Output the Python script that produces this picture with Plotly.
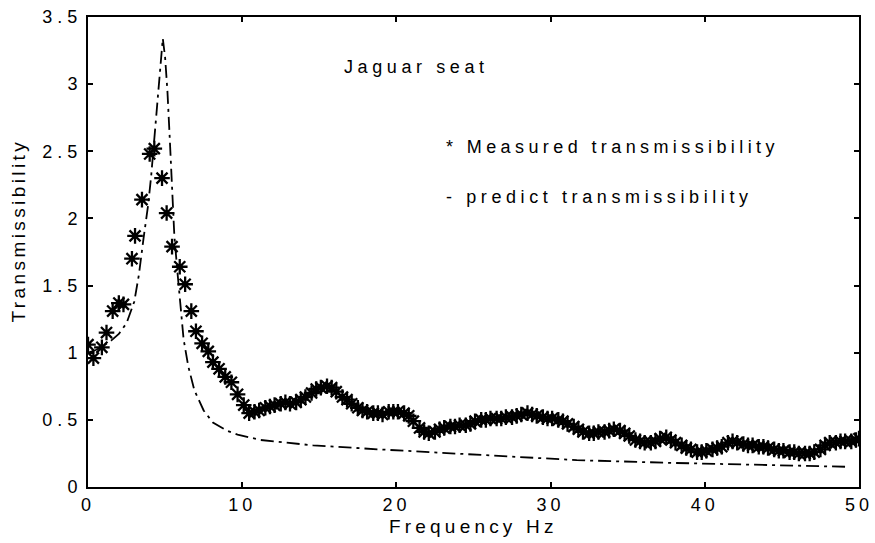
import plotly.graph_objects as go

# Measured transmissibility of the Jaguar seat (frequency in Hz)
measured_freq = [
    0.0, 0.35, 0.9, 1.2, 1.6, 2.0, 2.3, 2.85, 3.05, 3.5, 4.0, 4.3, 4.8, 5.1,
    5.45, 5.95, 6.3, 6.7, 7.0, 7.4, 7.8, 8.1, 8.5, 8.9, 9.3, 9.7, 10.1, 10.45,
    10.8, 11.1, 11.5, 11.8, 12.1, 12.5, 12.8, 13.1, 13.5, 13.8, 14.1, 14.5,
    14.8, 15.1, 15.5, 15.8, 16.1, 16.5, 16.8, 17.1, 17.5, 17.8, 18.1, 18.5,
    18.8, 19.1, 19.5, 19.8, 20.1, 20.5, 20.8, 21.1, 21.5, 21.8, 22.1, 22.5,
    22.8, 23.1, 23.5, 23.8, 24.1, 24.5, 24.8, 25.1, 25.5, 25.8, 26.1, 26.5,
    26.8, 27.1, 27.5, 27.8, 28.1, 28.5, 28.8, 29.1, 29.5, 29.8, 30.1, 30.5,
    30.8, 31.1, 31.5, 31.8, 32.1, 32.5, 32.8, 33.1, 33.5, 33.8, 34.1, 34.5,
    34.8, 35.1, 35.5, 35.8, 36.1, 36.5, 36.8, 37.1, 37.5, 37.8, 38.1, 38.5,
    38.8, 39.1, 39.5, 39.8, 40.1, 40.5, 40.8, 41.1, 41.5, 41.8, 42.1, 42.5,
    42.8, 43.1, 43.5, 43.8, 44.1, 44.5, 44.8, 45.1, 45.5, 45.8, 46.1, 46.5,
    46.8, 47.1, 47.5, 47.8, 48.1, 48.5, 48.8, 49.1, 49.5, 49.8, 50.0,
]
measured_trans = [
    1.06, 0.96, 1.04, 1.15, 1.31, 1.37, 1.36, 1.70, 1.87, 2.14, 2.48, 2.52,
    2.30, 2.04, 1.79, 1.64, 1.51, 1.31, 1.16, 1.07, 1.01, 0.93, 0.88, 0.82,
    0.78, 0.69, 0.61, 0.55,
    0.56, 0.57, 0.59, 0.60, 0.61, 0.62, 0.63, 0.62, 0.63, 0.65, 0.67, 0.70,
    0.73, 0.74, 0.75, 0.74, 0.71, 0.67, 0.65, 0.62, 0.59, 0.57, 0.56, 0.55,
    0.55, 0.54, 0.56, 0.56, 0.56, 0.55, 0.53, 0.49, 0.44, 0.41, 0.40, 0.41,
    0.43, 0.44, 0.45, 0.45, 0.46, 0.46, 0.47, 0.49, 0.50, 0.50, 0.51, 0.51,
    0.51, 0.52, 0.52, 0.53, 0.54, 0.55, 0.54, 0.53, 0.52, 0.51, 0.51, 0.50,
    0.49, 0.47, 0.45, 0.43, 0.41, 0.40, 0.40, 0.41, 0.41, 0.42, 0.43, 0.42,
    0.40, 0.38, 0.35, 0.34, 0.33, 0.33, 0.34, 0.36, 0.37, 0.35, 0.33, 0.31,
    0.29, 0.28, 0.26, 0.26, 0.27, 0.28, 0.29, 0.30, 0.33, 0.34, 0.33, 0.32,
    0.31, 0.31, 0.30, 0.30, 0.29, 0.28, 0.27, 0.27, 0.26, 0.26, 0.25, 0.25,
    0.25, 0.26, 0.28, 0.31, 0.33, 0.33, 0.34, 0.34, 0.34, 0.35, 0.36,
]

# Predicted transmissibility from the seat model
predict_freq = [
    0.0, 0.5, 1.0, 1.5, 2.0, 2.5, 3.0, 3.3, 3.6, 3.9, 4.1, 4.3, 4.5, 4.7,
    4.85, 5.0, 5.15, 5.3, 5.45, 5.6, 5.8, 6.0, 6.2, 6.5, 6.9, 7.5, 8.1, 9.0,
    9.7, 11.2, 12.9, 14.6, 18.9, 25.4, 31.7, 37.7, 44.0, 49.4,
]
predict_trans = [
    1.00, 1.02, 1.05, 1.09, 1.14, 1.22, 1.38, 1.58, 1.85, 2.10, 2.32, 2.58,
    2.88, 3.15, 3.34, 3.20, 2.95, 2.60, 2.20, 1.87, 1.60, 1.37, 1.10, 0.90,
    0.72, 0.57, 0.48, 0.42, 0.39, 0.35, 0.33, 0.31, 0.28, 0.24, 0.20, 0.18,
    0.165, 0.15,
]

x_ticks = [0, 10, 20, 30, 40, 50]
y_ticks = [0, 0.5, 1, 1.5, 2, 2.5, 3, 3.5]
y_tick_labels = ["0", "0.5", "1", "1.5", "2", "2.5", "3", "3.5"]

FONT = "Liberation Sans, Arial, sans-serif"


def spaced(text, px):
    return f'<span style="letter-spacing:{px}px">{text}</span>'


fig = go.Figure()

fig.add_trace(go.Scatter(
    x=predict_freq, y=predict_trans, mode="lines",
    line=dict(color="black", width=1.8, dash="13px,5px,3px,5px"),
    showlegend=False,
))
fig.add_trace(go.Scatter(
    x=measured_freq, y=measured_trans, mode="markers",
    marker=dict(symbol="asterisk-open", size=13, color="black",
                line=dict(color="black", width=2.3)),
    showlegend=False,
))

axis_common = dict(
    showline=True, linecolor="black", linewidth=2, mirror="ticks",
    ticks="inside", ticklen=5, tickwidth=1.5, tickcolor="black",
    showgrid=False, zeroline=False, automargin=False,
    tickfont=dict(family=FONT, size=18, color="black"),
)

fig.update_xaxes(
    range=[0, 50], tickvals=x_ticks,
    ticktext=[spaced(str(v), 4) for v in x_ticks],
    **axis_common,
)
fig.update_yaxes(
    range=[0, 3.5], tickvals=y_ticks,
    ticktext=[spaced(t, 5) for t in y_tick_labels],
    **axis_common,
)

# (text, letter spacing, x, y, anchor, angle, size)
label_specs = [
    ("Frequency Hz", 4.2, 0.5, -0.085, "center", 0, 19),
    ("Transmissibility", 3.4, -0.09, 0.545, "center", -90, 19),
    ("Jaguar seat", 4.6, 0.329, 0.894, "left", 0, 18),
    ("* Measured transmissibility", 4.4, 0.462, 0.723, "left", 0, 18),
    ("- predict transmissibility", 4.6, 0.462, 0.617, "left", 0, 18),
]
fig.update_layout(annotations=[
    dict(text=spaced(t, ls), x=x, y=y, xref="paper", yref="paper",
         xanchor=anc, yanchor="middle", textangle=ang, showarrow=False,
         font=dict(family=FONT, size=sz, color="black"))
    for t, ls, x, y, anc, ang, sz in label_specs
])

fig.update_layout(
    width=875, height=543,
    margin=dict(l=88, r=16, t=17, b=56, autoexpand=False),
    paper_bgcolor="white", plot_bgcolor="white",
    font=dict(family=FONT, color="black"),
)

fig.write_html("out.html")
